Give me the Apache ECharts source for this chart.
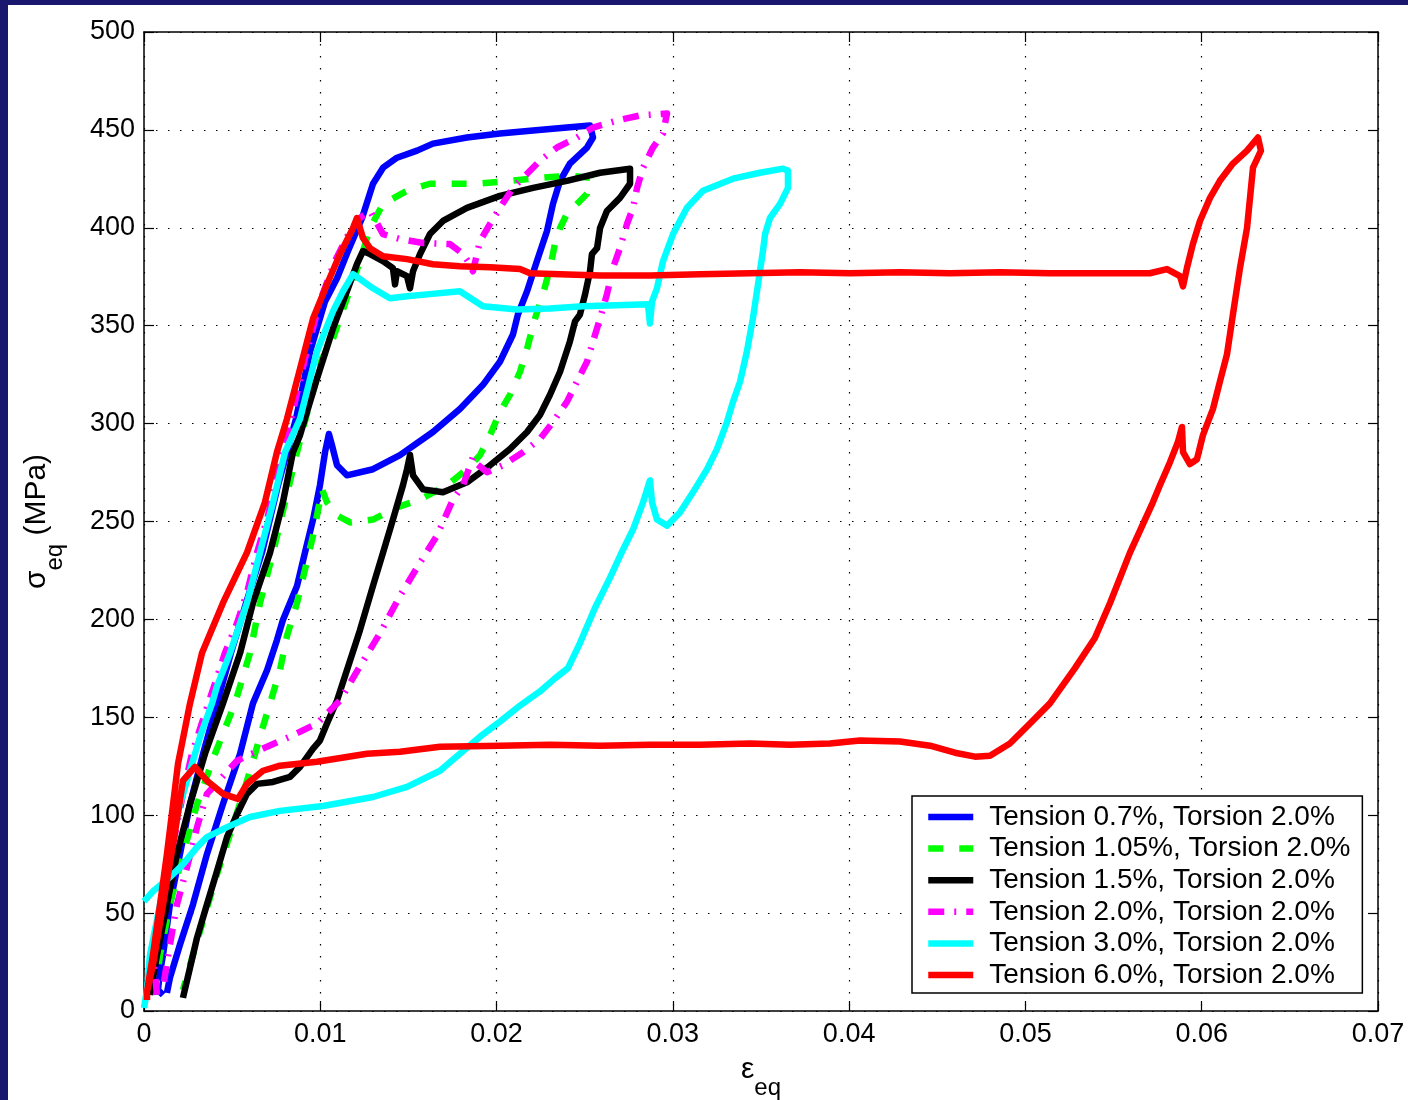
<!DOCTYPE html>
<html>
<head>
<meta charset="utf-8">
<script src="https://cdn.jsdelivr.net/npm/echarts@6/dist/echarts.min.js"></script>
<style>
html,body{margin:0;padding:0;background:#19176e;}
#wrap{position:absolute;left:8px;top:5px;width:1400px;height:1095px;background:#fff;}
#chart{width:1400px;height:1095px;}
</style>
</head>
<body>
<div id="wrap"><div id="chart"></div></div>
<script>
// ---------- data (equivalent strain, equivalent stress in MPa) ----------
const legendNames = [
  'Tension 0.7%, Torsion 2.0%',
  'Tension 1.05%, Torsion 2.0%',
  'Tension 1.5%, Torsion 2.0%',
  'Tension 2.0%, Torsion 2.0%',
  'Tension 3.0%, Torsion 2.0%',
  'Tension 6.0%, Torsion 2.0%'
];
const xTicks = [0, 0.01, 0.02, 0.03, 0.04, 0.05, 0.06, 0.07];
const yTicks = [0, 50, 100, 150, 200, 250, 300, 350, 400, 450, 500];

const t07 = [[0.00108,8.2],[0.00079,10.8],[0.00091,20.0],[0.00108,28.7],[0.00147,54.4],[0.00204,80.1],[0.00261,105.7],[0.00335,131.4],[0.00414,157.1],[0.00493,182.8],[0.00579,208.4],[0.00669,234.1],[0.00760,268.5],[0.00862,302.4],[0.00942,336.8],[0.01027,362.4],[0.01095,374.2],[0.01157,388.1],[0.01237,405.0],[0.01299,422.5],[0.01356,430.7],[0.01435,435.8],[0.01549,439.4],[0.01639,443.0],[0.01832,446.1],[0.02019,448.2],[0.02207,449.7],[0.02399,451.2],[0.02530,452.3],[0.02547,446.1],[0.02513,441.0],[0.02416,432.8],[0.02360,424.0],[0.02320,412.2],[0.02286,398.4],[0.02229,383.0],[0.02173,367.6],[0.02121,355.7],[0.02093,345.5],[0.02019,331.6],[0.01923,319.8],[0.01792,307.5],[0.01639,295.7],[0.01452,283.9],[0.01299,276.7],[0.01151,273.6],[0.01095,278.7],[0.01066,289.0],[0.01049,294.7],[0.01027,285.4],[0.00998,268.5],[0.00959,251.0],[0.00913,234.1],[0.00868,217.1],[0.00788,199.7],[0.00754,189.4],[0.00698,174.0],[0.00618,157.1],[0.00545,131.4],[0.00448,105.7],[0.00357,80.1],[0.00278,54.4],[0.00204,33.9],[0.00147,16.9],[0.00130,9.2]];

const t105 = [[0.00062,8.2],[0.00091,28.7],[0.00147,54.4],[0.00221,80.1],[0.00301,105.7],[0.00403,131.4],[0.00516,157.1],[0.00601,182.8],[0.00658,208.4],[0.00732,234.1],[0.00800,259.8],[0.00868,285.4],[0.00942,311.1],[0.01010,333.2],[0.01066,341.9],[0.01100,350.6],[0.01151,364.0],[0.01225,383.0],[0.01282,399.9],[0.01356,412.2],[0.01492,418.9],[0.01622,422.5],[0.01889,422.5],[0.02076,424.0],[0.02263,425.6],[0.02416,426.6],[0.02530,425.6],[0.02513,417.4],[0.02456,412.2],[0.02399,407.1],[0.02360,399.9],[0.02331,391.7],[0.02303,379.4],[0.02263,366.0],[0.02218,353.7],[0.02173,338.3],[0.02133,326.5],[0.02076,314.7],[0.02019,305.9],[0.01963,294.1],[0.01906,283.9],[0.01832,276.7],[0.01719,268.5],[0.01566,261.3],[0.01435,257.2],[0.01299,251.0],[0.01169,249.5],[0.01095,253.1],[0.01038,259.8],[0.01010,266.4],[0.00959,242.8],[0.00913,225.4],[0.00868,208.4],[0.00811,191.5],[0.00771,174.0],[0.00715,157.1],[0.00675,145.3],[0.00630,131.4],[0.00562,110.9],[0.00488,90.3],[0.00414,69.8],[0.00346,49.3],[0.00278,28.7],[0.00221,10.8]];

const t15 = [[0.00034,8.2],[0.00074,28.7],[0.00130,54.4],[0.00187,80.1],[0.00261,105.7],[0.00346,131.4],[0.00448,157.1],[0.00545,182.8],[0.00618,208.4],[0.00715,234.1],[0.00788,259.8],[0.00845,285.4],[0.00885,294.1],[0.00981,322.9],[0.01072,348.6],[0.01151,367.6],[0.01208,381.4],[0.01242,388.1],[0.01282,386.6],[0.01356,383.0],[0.01412,379.4],[0.01424,371.1],[0.01435,377.8],[0.01492,375.3],[0.01509,369.1],[0.01526,377.8],[0.01566,386.6],[0.01622,396.8],[0.01696,403.5],[0.01832,410.2],[0.02019,416.3],[0.02207,420.4],[0.02399,424.0],[0.02587,428.1],[0.02757,430.2],[0.02757,422.5],[0.02700,415.3],[0.02626,408.6],[0.02587,399.9],[0.02570,389.6],[0.02541,386.6],[0.02530,377.8],[0.02502,366.0],[0.02473,355.7],[0.02445,352.2],[0.02416,341.9],[0.02360,326.5],[0.02303,314.7],[0.02246,304.4],[0.02173,295.7],[0.02076,287.0],[0.01963,278.7],[0.01832,270.0],[0.01696,264.9],[0.01583,266.4],[0.01526,273.6],[0.01509,283.9],[0.01492,276.7],[0.01469,268.5],[0.01412,251.0],[0.01356,234.1],[0.01299,217.1],[0.01225,194.5],[0.01151,174.0],[0.01095,158.6],[0.01038,146.8],[0.00998,138.1],[0.00959,134.0],[0.00885,124.7],[0.00828,119.6],[0.00732,117.0],[0.00641,116.0],[0.00584,110.9],[0.00528,100.6],[0.00471,88.8],[0.00414,71.4],[0.00357,54.4],[0.00301,37.5],[0.00261,22.1],[0.00221,6.7]];

const t20 = [[0.00074,8.2],[0.00051,28.7],[0.00091,49.3],[0.00130,69.8],[0.00176,90.3],[0.00221,110.9],[0.00272,131.4],[0.00346,152.0],[0.00403,167.4],[0.00459,182.8],[0.00528,198.2],[0.00584,213.6],[0.00641,234.1],[0.00698,251.0],[0.00743,268.5],[0.00788,285.4],[0.00834,302.4],[0.00913,333.2],[0.00998,362.4],[0.01083,383.0],[0.01169,398.4],[0.01225,405.0],[0.01282,408.6],[0.01356,396.8],[0.01452,394.3],[0.01583,392.2],[0.01736,391.7],[0.01810,386.6],[0.01849,381.4],[0.01866,377.8],[0.01906,393.2],[0.01963,402.0],[0.02019,410.2],[0.02093,420.4],[0.02173,427.6],[0.02246,434.3],[0.02343,441.0],[0.02456,446.1],[0.02547,451.2],[0.02683,454.8],[0.02814,457.4],[0.02967,458.4],[0.02944,448.2],[0.02887,441.0],[0.02831,430.7],[0.02797,420.4],[0.02774,410.2],[0.02740,402.0],[0.02700,389.6],[0.02660,379.4],[0.02626,366.0],[0.02587,353.7],[0.02547,341.9],[0.02513,331.6],[0.02456,321.4],[0.02399,311.1],[0.02320,300.8],[0.02246,292.1],[0.02150,285.4],[0.02036,278.7],[0.01946,275.2],[0.01889,279.3],[0.01866,282.9],[0.01810,268.5],[0.01753,261.3],[0.01662,242.8],[0.01566,229.0],[0.01452,212.0],[0.01339,193.0],[0.01225,176.1],[0.01112,158.6],[0.00981,146.8],[0.00828,140.1],[0.00698,135.0],[0.00528,127.8],[0.00357,110.9],[0.00301,93.9],[0.00244,73.4],[0.00187,54.4],[0.00147,33.9],[0.00108,11.8]];

const t30 = [[0.00000,1.5],[0.00017,10.8],[0.00034,28.7],[0.00091,54.4],[0.00147,80.1],[0.00204,105.7],[0.00261,122.7],[0.00318,140.1],[0.00386,157.1],[0.00414,165.8],[0.00488,182.8],[0.00584,208.4],[0.00658,234.1],[0.00732,259.8],[0.00800,285.4],[0.00885,302.4],[0.00981,336.8],[0.01072,357.3],[0.01129,367.6],[0.01186,376.3],[0.01299,369.1],[0.01395,364.0],[0.01492,365.0],[0.01605,366.0],[0.01792,367.6],[0.01923,359.9],[0.02116,358.3],[0.02303,358.8],[0.02490,359.9],[0.02683,360.4],[0.02859,360.9],[0.02870,351.1],[0.02882,362.4],[0.02910,369.1],[0.02944,382.9],[0.03001,396.8],[0.03080,410.2],[0.03171,418.9],[0.03341,425.1],[0.03494,428.1],[0.03625,430.2],[0.03653,429.2],[0.03653,420.4],[0.03608,412.2],[0.03551,405.0],[0.03523,396.8],[0.03511,388.1],[0.03483,371.1],[0.03454,353.7],[0.03420,336.8],[0.03381,321.4],[0.03341,311.1],[0.03307,300.8],[0.03250,287.0],[0.03194,276.7],[0.03114,264.9],[0.03040,254.6],[0.02967,247.9],[0.02910,251.0],[0.02882,259.8],[0.02870,271.0],[0.02831,259.8],[0.02774,245.9],[0.02717,235.6],[0.02643,221.2],[0.02558,205.8],[0.02473,187.9],[0.02405,175.1],[0.02331,169.9],[0.02246,163.2],[0.02133,156.0],[0.02019,147.8],[0.01906,140.1],[0.01792,131.4],[0.01679,122.7],[0.01492,114.5],[0.01299,109.3],[0.01015,104.7],[0.00771,102.2],[0.00601,99.1],[0.00471,93.9],[0.00357,88.8],[0.00301,83.7],[0.00221,74.9],[0.00147,68.3],[0.00051,61.1],[0.00000,56.0]];

const t60 = [[0.00017,5.6],[0.00017,9.8],[0.00051,28.7],[0.00091,54.4],[0.00130,80.1],[0.00165,105.7],[0.00193,126.3],[0.00261,157.1],[0.00329,182.8],[0.00448,208.4],[0.00584,234.1],[0.00686,259.8],[0.00754,285.4],[0.00811,302.4],[0.00885,328.0],[0.00959,353.7],[0.01038,371.1],[0.01112,386.6],[0.01186,399.9],[0.01208,405.0],[0.01242,394.8],[0.01282,389.6],[0.01356,385.5],[0.01492,384.0],[0.01639,381.4],[0.01792,380.4],[0.01963,379.9],[0.02133,378.9],[0.02190,376.8],[0.02360,376.3],[0.02587,375.7],[0.02870,375.7],[0.03154,376.3],[0.03437,376.8],[0.03721,377.3],[0.04005,376.8],[0.04288,377.3],[0.04572,376.8],[0.04856,377.3],[0.05139,376.8],[0.05423,376.8],[0.05706,376.8],[0.05803,378.9],[0.05877,375.3],[0.05894,370.1],[0.05916,379.4],[0.05950,391.7],[0.05990,403.5],[0.06047,415.3],[0.06103,424.0],[0.06177,432.8],[0.06257,439.4],[0.06319,446.1],[0.06336,439.4],[0.06291,430.7],[0.06274,415.3],[0.06257,399.9],[0.06217,379.4],[0.06177,355.7],[0.06143,335.2],[0.06103,321.4],[0.06064,307.5],[0.06007,294.1],[0.05973,281.8],[0.05933,279.3],[0.05894,285.4],[0.05888,298.3],[0.05865,290.6],[0.05820,280.3],[0.05763,268.5],[0.05723,259.8],[0.05593,234.1],[0.05480,208.4],[0.05394,190.5],[0.05281,175.1],[0.05139,157.1],[0.05026,146.8],[0.04912,136.6],[0.04799,130.4],[0.04714,129.9],[0.04600,131.9],[0.04459,135.5],[0.04288,137.6],[0.04061,138.1],[0.03891,136.6],[0.03664,136.0],[0.03437,136.6],[0.03154,136.0],[0.02870,136.0],[0.02587,135.5],[0.02303,136.0],[0.02019,135.5],[0.01679,135.0],[0.01452,132.4],[0.01265,131.4],[0.00981,127.3],[0.00771,125.3],[0.00675,122.7],[0.00584,116.0],[0.00533,108.3],[0.00448,110.9],[0.00357,117.6],[0.00289,124.7],[0.00221,117.6],[0.00165,85.2],[0.00108,54.4],[0.00051,23.6],[0.00017,9.8]];

const seriesData = [t07, t105, t15, t20, t30, t60];
const colors = ['#0000ff', '#00ff00', '#000000', '#ff00ff', '#00ffff', '#ff0000'];
const dashes = ['solid', [15, 16], 'solid', [16, 10, 2, 10], 'solid', 'solid'];

// ---------- chart ----------
const chart = echarts.init(document.getElementById('chart'), null, {renderer: 'canvas'});
const FONT = '"Liberation Sans", Arial, Helvetica, sans-serif';

const dotted = {show: true, lineStyle: {color: '#000', width: 1.2, type: [1.5, 10.5]}};
const nameRich = {
  s: {fontSize: 30, fontFamily: FONT, color: '#000', verticalAlign: 'top'},
  sub: {fontSize: 24, fontFamily: FONT, color: '#000', verticalAlign: 'bottom', padding: [21, 0, 0, 0]}
};
const frameAxis = {
  axisLine: {show: true, onZero: false, lineStyle: {color: '#000', width: 1.5}},
  axisTick: {show: true, inside: true, length: 10, lineStyle: {color: '#000', width: 1.2}}
};

const option = {
  animation: false,
  backgroundColor: '#ffffff',
  textStyle: {fontFamily: FONT},
  grid: {left: 136, top: 27, right: 30, bottom: 89, containLabel: false, outerBoundsMode: 'none'},
  legend: {
    orient: 'vertical',
    left: 904, top: 791,
    backgroundColor: '#fff',
    borderColor: '#000', borderWidth: 1.5, borderRadius: 0,
    padding: [7, 12, 4, 13],
    itemWidth: 45, itemHeight: 14, itemGap: 3.6,
    itemStyle: {opacity: 0},
    lineStyle: {width: 6.5},
    textStyle: {fontFamily: FONT, fontSize: 28, color: '#000', lineHeight: 28, padding: [0, 0, 0, 11]},
    data: legendNames
  },
  xAxis: [Object.assign({
    type: 'value', min: xTicks[0], max: xTicks[xTicks.length - 1], interval: 0.01,
    position: 'bottom',
    axisLabel: {color: '#000', fontSize: 27, fontFamily: FONT, margin: 10,
      formatter: v => (Math.abs(v) < 1e-9 ? '0' : (+v.toFixed(2)).toString())},
    splitLine: dotted,
    name: '{s|ε}{sub|eq}', nameLocation: 'middle', nameGap: 44,
    nameTextStyle: {rich: nameRich}
  }, frameAxis), Object.assign({
    type: 'value', min: xTicks[0], max: xTicks[xTicks.length - 1], interval: 0.01,
    position: 'top',
    axisLabel: {show: false}, splitLine: {show: false}
  }, frameAxis)],
  yAxis: [Object.assign({
    type: 'value', min: yTicks[0], max: yTicks[yTicks.length - 1], interval: 50,
    position: 'left',
    axisLabel: {color: '#000', fontSize: 27, fontFamily: FONT, margin: 9},
    splitLine: dotted,
    name: '{s|σ}{sub|eq}{s| (MPa)}', nameLocation: 'middle', nameGap: 77, nameRotate: 90,
    nameTextStyle: {rich: nameRich}
  }, frameAxis), Object.assign({
    type: 'value', min: yTicks[0], max: yTicks[yTicks.length - 1], interval: 50,
    position: 'right',
    axisLabel: {show: false}, splitLine: {show: false}
  }, frameAxis)],
  series: seriesData.map((d, i) => ({
    name: legendNames[i],
    type: 'line',
    xAxisIndex: 0, yAxisIndex: 0,
    data: d,
    showSymbol: false, symbol: 'none',
    smooth: false,
    color: colors[i],
    lineStyle: {color: colors[i], width: 6.5, type: dashes[i], cap: 'butt', join: 'round'},
    z: 2 + i
  }))
};
chart.setOption(option);
</script>
</body>
</html>
